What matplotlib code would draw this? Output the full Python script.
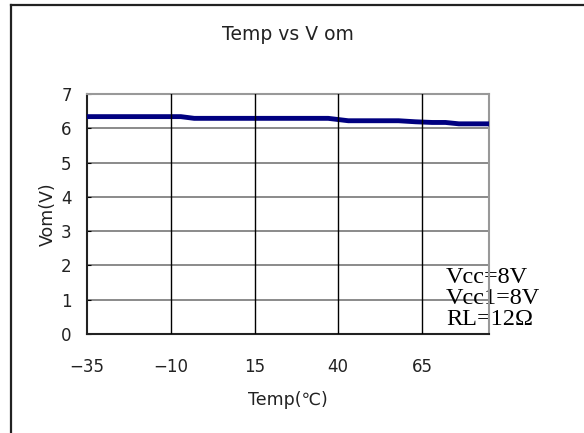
import numpy as np
import matplotlib
matplotlib.use('Agg')
import matplotlib.pyplot as plt
from matplotlib.lines import Line2D

# data
temp = [-35, -7, -3, 37, 43, 58, 63, 68, 72, 76, 85]
vom = [6.34, 6.34, 6.29, 6.29, 6.22, 6.22, 6.19, 6.17, 6.17, 6.13, 6.13]
xticks = [-35, -10, 15, 40, 65]
yticks = [0, 1, 2, 3, 4, 5, 6, 7]
notes = ['Vcc=8V', 'Vcc1=8V', 'RL=12\u03a9']

plt.rcParams['font.family'] = ['DejaVu Sans', 'Noto Sans CJK KR']

fig = plt.figure(figsize=(5.84, 4.33), dpi=100)
ax = fig.add_axes([87 / 584, 99 / 433, 402 / 584, 240 / 433])

# outer frame (left and top only, as in the reference)
fig.add_artist(Line2D([11 / 584, 11 / 584], [0, 1 - 5 / 433], transform=fig.transFigure,
                      color='#222222', lw=1.6))
fig.add_artist(Line2D([11 / 584, 1], [1 - 5 / 433, 1 - 5 / 433], transform=fig.transFigure,
                      color='#222222', lw=1.6))

ax.plot(temp, vom, color='#000080', lw=3.5, solid_capstyle='butt', zorder=3)

ax.set_xlim(-35, 85)
ax.set_ylim(0, 7)
ax.set_xticks(xticks)
ax.set_yticks(yticks)
ax.tick_params(axis='x', length=0, pad=17, labelsize=12, labelcolor='#222222')
ax.tick_params(axis='y', length=3, direction='in', pad=11, labelsize=12, labelcolor='#222222')

for v in xticks[1:]:
    ax.axvline(v, color='black', lw=1.0, zorder=4)
for v in yticks[1:]:
    ax.axhline(v, color='#8a8a8a', lw=1.4, zorder=1)

for s in ['top', 'right']:
    ax.spines[s].set_color('#999999')
    ax.spines[s].set_linewidth(1.5)
for s in ['left', 'bottom']:
    ax.spines[s].set_color('#222222')
    ax.spines[s].set_linewidth(1.5)

ax.set_xlabel('Temp(\u2103)', fontsize=12.5, labelpad=11, color='#222222')
ax.set_ylabel('Vom(V)', fontsize=12.5, labelpad=3, color='#222222')
fig.text(0.5 * (87 + 489) / 584, 1 - 35 / 433, 'Temp vs V om', fontsize=13.5,
         ha='center', va='center', color='#222222')

for i, t in enumerate(notes):
    ax.text(0.893, [0.235, 0.15, 0.062][i], t, transform=ax.transAxes,
            family='Liberation Serif', fontsize=17.5, ha='left', va='center', zorder=2)

fig.savefig('out.png', dpi=100)
